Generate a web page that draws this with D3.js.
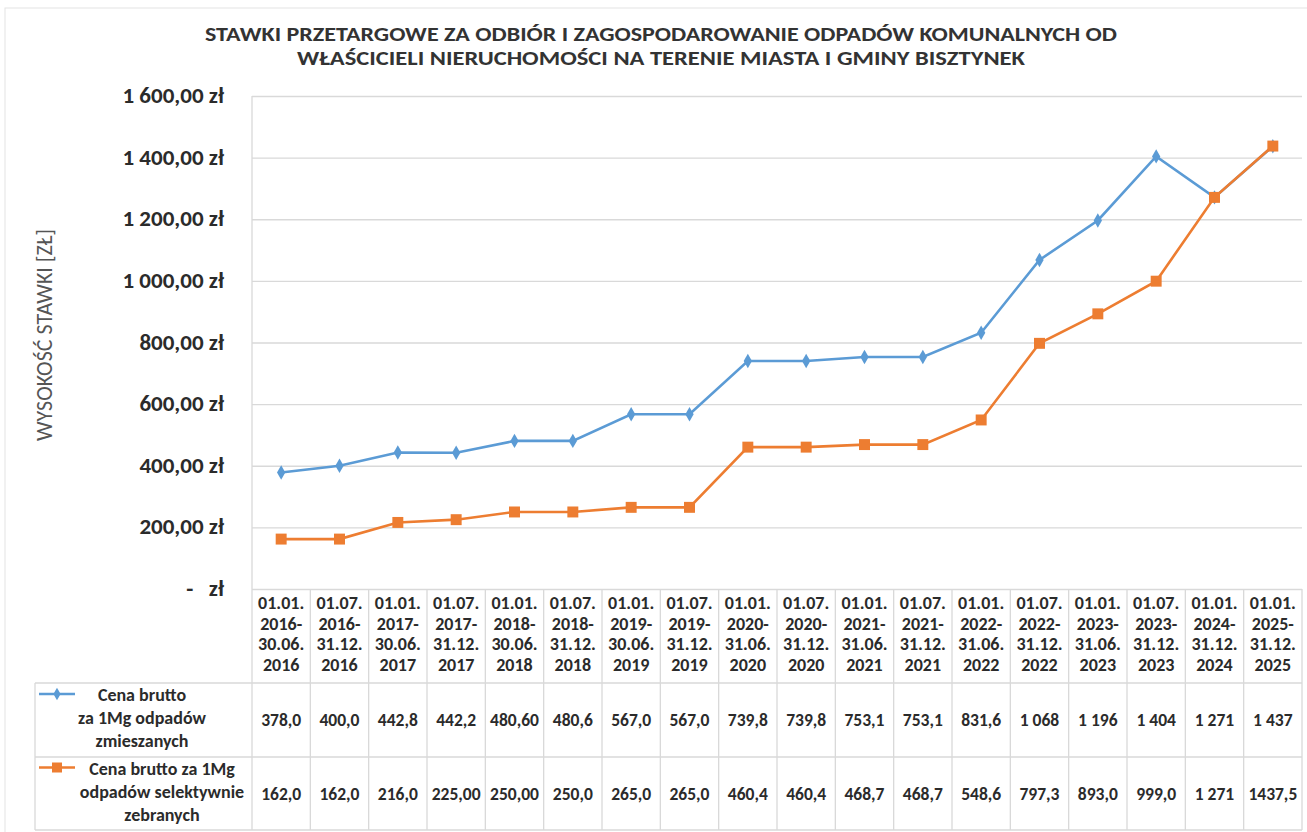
<!DOCTYPE html>
<html>
<head>
<meta charset="utf-8">
<script src="https://cdn.jsdelivr.net/npm/d3@7"></script>
<style>
  body { margin: 0; background: #fff; }
  svg { display: block; font-family: Carlito, Calibri, 'Open Sans', sans-serif; }
</style>
</head>
<body>
<svg id="chart" width="1307" height="832"></svg>
<script>
// data
const periods = [
  ['01.01.', '2016-', '30.06.', '2016'], ['01.07.', '2016-', '31.12.', '2016'],
  ['01.01.', '2017-', '30.06.', '2017'], ['01.07.', '2017-', '31.12.', '2017'],
  ['01.01.', '2018-', '30.06.', '2018'], ['01.07.', '2018-', '31.12.', '2018'],
  ['01.01.', '2019-', '30.06.', '2019'], ['01.07.', '2019-', '31.12.', '2019'],
  ['01.01.', '2020-', '31.06.', '2020'], ['01.07.', '2020-', '31.12.', '2020'],
  ['01.01.', '2021-', '31.06.', '2021'], ['01.07.', '2021-', '31.12.', '2021'],
  ['01.01.', '2022-', '31.06.', '2022'], ['01.07.', '2022-', '31.12.', '2022'],
  ['01.01.', '2023-', '31.06.', '2023'], ['01.07.', '2023-', '31.12.', '2023'],
  ['01.01.', '2024-', '31.12.', '2024'], ['01.01.', '2025-', '31.12.', '2025']
]
const mixedLabels = ['378,0', '400,0', '442,8', '442,2', '480,60', '480,6', '567,0', '567,0', '739,8',
  '739,8', '753,1', '753,1', '831,6', '1 068', '1 196', '1 404', '1 271', '1 437']
const sortedLabels = ['162,0', '162,0', '216,0', '225,00', '250,00', '250,0', '265,0', '265,0', '460,4',
  '460,4', '468,7', '468,7', '548,6', '797,3', '893,0', '999,0', '1 271', '1437,5']
const mixedName = ['Cena brutto', 'za 1Mg odpadów', 'zmieszanych']
const sortedName = ['Cena brutto za 1Mg', 'odpadów selektywnie', 'zebranych']
const yTicks = [0, 200, 400, 600, 800, 1000, 1200, 1400, 1600]
const titleLines = ['STAWKI PRZETARGOWE ZA ODBIÓR I ZAGOSPODAROWANIE ODPADÓW KOMUNALNYCH OD',
  'WŁAŚCICIELI NIERUCHOMOŚCI NA TERENIE MIASTA I GMINY BISZTYNEK']
const yTitle = 'WYSOKOŚĆ STAWKI [ZŁ]'

const toNum = s => +s.replace(/\s/g, '').replace(',', '.')
const mixed = mixedLabels.map(toNum)
const sorted = sortedLabels.map(toNum)

const blue = '#5b9bd5'
const orange = '#ed7d31'
const grid = '#d9d9d9'
const textCol = '#2b2b2b'

const plotLeft = 252, plotRight = 1302, plotTop = 96, plotBottom = 589
const row1 = 683, row2 = 757, row3 = 830, legendLeft = 35

const svg = d3.select('#chart')

const x = d3.scaleBand()
  .domain(d3.range(periods.length))
  .range([plotLeft, plotRight])
const y = d3.scaleLinear()
  .domain([0, 1600])
  .range([plotBottom, plotTop])

// outer frame
svg.append('rect')
  .attr('x', 5).attr('y', 8)
  .attr('width', 1320).attr('height', 840)
  .attr('fill', 'none')
  .attr('stroke', '#e3e3e3')

// title
svg.selectAll('text.title')
  .data(titleLines)
  .enter().append('text')
  .attr('class', 'title')
  .attr('x', 661)
  .attr('y', (d, i) => 41 + i * 24)
  .attr('text-anchor', 'middle')
  .attr('font-size', 20)
  .attr('font-weight', 'bold')
  .attr('fill', '#333')
  .attr('textLength', (d, i) => i ? 728 : 912)
  .attr('lengthAdjust', 'spacingAndGlyphs')
  .text(d => d)

// gridlines
svg.append('g')
  .attr('transform', `translate(${plotLeft}, 0)`)
  .call(d3.axisLeft(y).tickValues(yTicks).tickSize(-(plotRight - plotLeft)).tickFormat(''))
  .call(g => g.select('.domain').remove())
  .call(g => g.selectAll('.tick line').attr('stroke', grid).attr('stroke-width', 1.3))

svg.append('line')
  .attr('x1', plotLeft).attr('x2', plotLeft)
  .attr('y1', plotTop).attr('y2', plotBottom)
  .attr('stroke', grid).attr('stroke-width', 1.3)

// y tick labels
const fmt = v => v === 0 ? '-   zł' : d3.format(',.2f')(v).replace(/,/g, ' ').replace('.', ',') + ' zł'
svg.append('g')
  .selectAll('text')
  .data(yTicks)
  .enter().append('text')
  .attr('x', 224)
  .attr('y', d => y(d) + 7)
  .attr('text-anchor', 'end')
  .attr('font-size', 23)
  .attr('font-weight', 'bold')
  .attr('fill', textCol)
  .style('white-space', 'pre')
  .text(fmt)

// y title
svg.append('text')
  .attr('transform', 'translate(52, 335) rotate(-90)')
  .attr('text-anchor', 'middle')
  .attr('font-size', 22)
  .attr('fill', '#555')
  .text(yTitle)

// table lines
const tbl = svg.append('g').attr('stroke', grid).attr('stroke-width', 1.3)
const bounds = d3.range(periods.length + 1).map(i => i < periods.length ? x(i) : plotRight)
tbl.selectAll('line.v')
  .data(bounds)
  .enter().append('line')
  .attr('x1', d => d).attr('x2', d => d)
  .attr('y1', plotBottom).attr('y2', row3)
tbl.selectAll('line.h')
  .data([row1, row2, row3])
  .enter().append('line')
  .attr('x1', legendLeft).attr('x2', plotRight)
  .attr('y1', d => d).attr('y2', d => d)
tbl.append('line')
  .attr('x1', legendLeft).attr('x2', legendLeft)
  .attr('y1', row1).attr('y2', row3)

// category header
const head = svg.append('g')
  .selectAll('g')
  .data(periods)
  .enter().append('g')
  .attr('transform', (d, i) => `translate(${x(i) + x.bandwidth() / 2}, 0)`)
head.selectAll('text')
  .data(d => d)
  .enter().append('text')
  .attr('y', (d, i) => 609 + i * 20.5)
  .attr('text-anchor', 'middle')
  .attr('font-size', 18)
  .attr('font-weight', 'bold')
  .attr('fill', textCol)
  .text(d => d)

// value rows
function valueRow(labels, cy) {
  svg.append('g')
    .selectAll('text')
    .data(labels)
    .enter().append('text')
    .attr('x', (d, i) => x(i) + x.bandwidth() / 2)
    .attr('y', cy + 6)
    .attr('text-anchor', 'middle')
    .attr('font-size', 17.5)
    .attr('font-weight', 'bold')
    .attr('fill', textCol)
    .text(d => d)
}
valueRow(mixedLabels, (row1 + row2) / 2)
valueRow(sortedLabels, (row2 + row3) / 2)

// legend cells
function legendCell(lines, color, shape, size, cy, tx) {
  const g = svg.append('g')
  g.append('line')
    .attr('x1', 39).attr('x2', 75)
    .attr('y1', cy - 26).attr('y2', cy - 26)
    .attr('stroke', color).attr('stroke-width', 2.4)
  g.append('path')
    .attr('transform', `translate(57, ${cy - 26})`)
    .attr('d', d3.symbol(shape, size)())
    .attr('fill', color)
  g.selectAll('text')
    .data(lines)
    .enter().append('text')
    .attr('x', tx)
    .attr('y', (d, i) => cy - 19 + i * 23)
    .attr('text-anchor', 'middle')
    .attr('font-size', 18)
    .attr('font-weight', 'bold')
    .attr('fill', textCol)
    .text(d => d)
}
legendCell(mixedName, blue, d3.symbolDiamond, 45, (row1 + row2) / 2, 142)
legendCell(sortedName, orange, d3.symbolSquare, 100, (row2 + row3) / 2, 162)

// series
const line = d3.line()
  .x((d, i) => x(i) + x.bandwidth() / 2)
  .y(d => y(d))

function drawSeries(values, color, shape, size) {
  svg.append('path')
    .datum(values)
    .attr('d', line)
    .attr('fill', 'none')
    .attr('stroke', color)
    .attr('stroke-width', 2.6)
  svg.append('g')
    .selectAll('path')
    .data(values)
    .enter().append('path')
    .attr('transform', (d, i) => `translate(${x(i) + x.bandwidth() / 2}, ${y(d)})`)
    .attr('d', d3.symbol(shape, size)())
    .attr('fill', color)
}
drawSeries(mixed, blue, d3.symbolDiamond, 60)
drawSeries(sorted, orange, d3.symbolSquare, 120)
</script>
</body>
</html>
